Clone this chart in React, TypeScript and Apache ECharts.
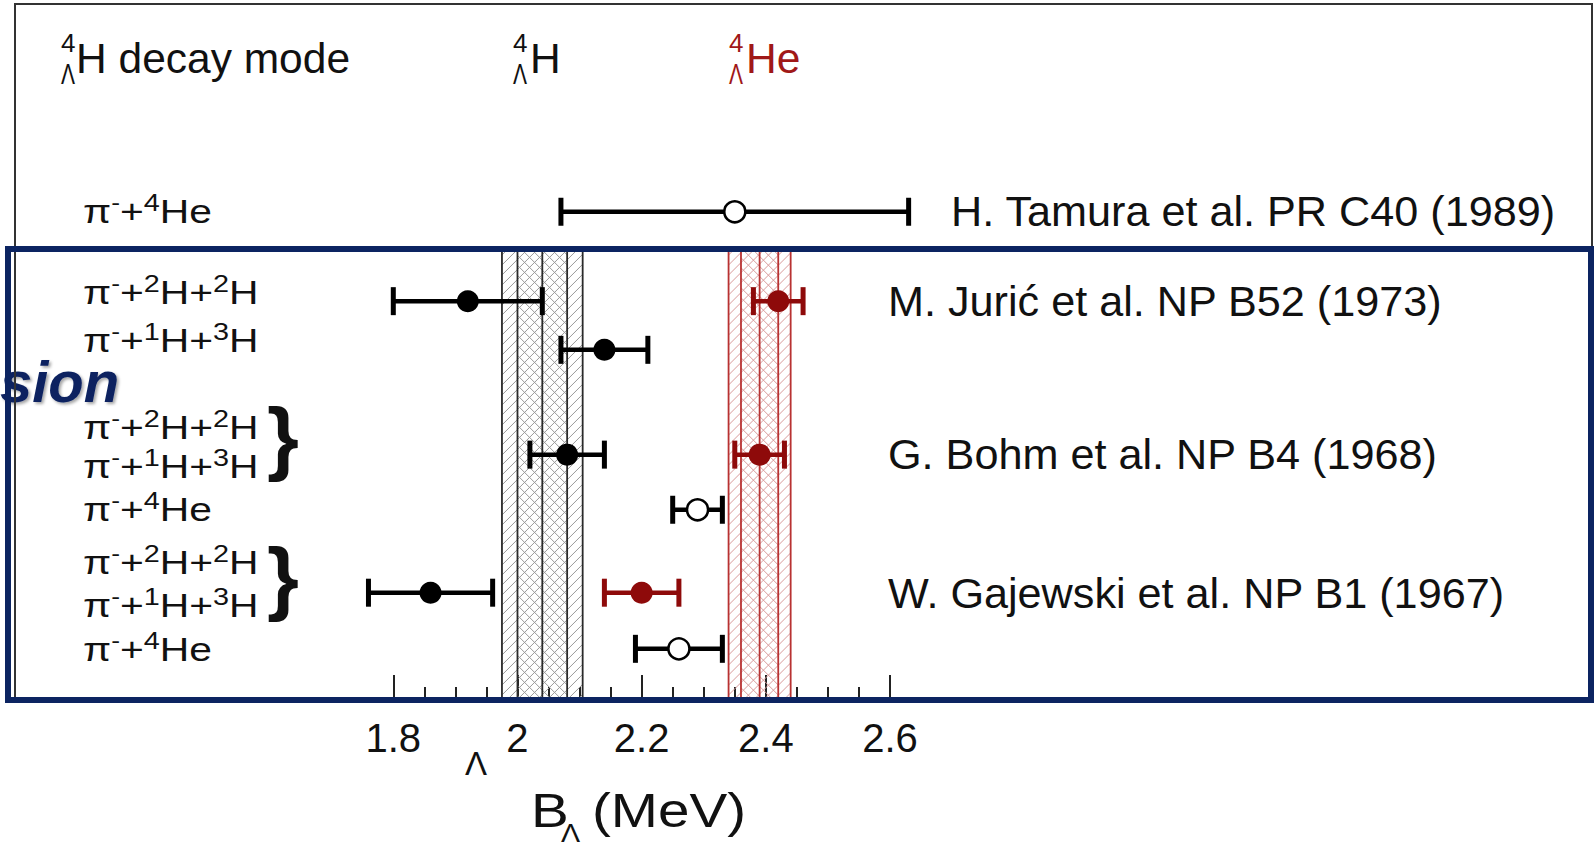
import React, { useEffect, useRef } from 'react';
import * as echarts from 'echarts';

const FONT = '"Liberation Sans", Arial, Helvetica, sans-serif';
const INK = '#111111';
const RED = '#8e0a0a';
const RED_TEXT = '#a01818';
const NAVY = '#0c2461';

// ---- B_Λ axis (MeV) ----
const X_MIN = 1.8;
const X_MAX = 2.6;
const X_INTERVAL = 0.2;

// ---- hidden vertical axis: measurement rows inside the framed panel ----
const ROW_MIN = 0;
const ROW_MAX = 9;

// ---- averaged bands: centre, inner (stat) half-width, outer (total) half-width ----
const bandHyperH = [2.04, 0.04, 0.065];
const bandHyperHe = [2.39, 0.03, 0.05];

// ---- 4ΛH measurements (filled black) ----
const hValues = [1.92, 2.14, 2.08, 1.86];
const hErrors = [0.12, 0.07, 0.06, 0.1];
const hRows = [1.03, 2.01, 4.12, 6.9];

// ---- 4ΛHe measurements (filled red) ----
const heValues = [2.42, 2.39, 2.2];
const heErrors = [0.04, 0.04, 0.06];
const heRows = [1.03, 4.12, 6.9];

// ---- π⁻ + ⁴He decay channel (open circles) ----
const openValues = [2.35, 2.29, 2.26];
const openErrors = [0.28, 0.04, 0.07];
const openRows = [-0.77, 5.23, 8.03];

// ---- reference labels ----
const citations = [
  'H. Tamura et al. PR C40 (1989)',
  'M. Jurić et al. NP B52 (1973)',
  'G. Bohm et al. NP B4 (1968)',
  'W. Gajewski et al. NP B1 (1967)',
];

// ---- decay-mode labels (rich text tokens) ----
const MODE_HE = '{m|π}{n|-}{m|+}{s|4}{m|He}';
const MODE_DD = '{m|π}{n|-}{m|+}{s|2}{m|H+}{s|2}{m|H}';
const MODE_PT = '{m|π}{n|-}{m|+}{s|1}{m|H+}{s|3}{m|H}';
const decayModes = [MODE_HE, MODE_DD, MODE_PT, MODE_DD, MODE_PT, MODE_HE, MODE_DD, MODE_PT, MODE_HE];

// layout of annotation text (pixels)
const modeLabelY = [211, 292, 340, 427, 466, 509, 562, 605, 649];
const citationPos = [
  [951, 211],
  [888, 301],
  [888, 454],
  [888, 593],
];
const bracePos = [
  [267, 436],
  [267, 576],
];

const GRID = { left: 393.3, top: 250, width: 496.7, height: 447 };

type Api = any;

function hatchLines(x0: number, x1: number, y0: number, y1: number, dir: number, step: number, stroke: string) {
  const out: any[] = [];
  if (dir > 0) {
    // "/" lines: x + y = k
    for (let k = x0 + y0 + step / 2; k <= x1 + y1; k += step) {
      const xa = Math.max(x0, k - y1);
      const xb = Math.min(x1, k - y0);
      if (xb > xa) {
        out.push({ type: 'line', silent: true, shape: { x1: xa, y1: k - xa, x2: xb, y2: k - xb }, style: { stroke, lineWidth: 1 } });
      }
    }
  } else {
    // "\" lines: y - x = k
    for (let k = y0 - x1 + step / 2; k <= y1 - x0; k += step) {
      const xa = Math.max(x0, y0 - k);
      const xb = Math.min(x1, y1 - k);
      if (xb > xa) {
        out.push({ type: 'line', silent: true, shape: { x1: xa, y1: xa + k, x2: xb, y2: xb + k }, style: { stroke, lineWidth: 1 } });
      }
    }
  }
  return out;
}

function bandSeries(name: string, band: number[], edge: string, hatch: string) {
  return {
    type: 'custom',
    name,
    z: 1,
    silent: true,
    clip: false,
    data: [[band[0], band[1], band[2]]],
    encode: { x: 0 },
    renderItem: (_p: any, api: Api) => {
      const c = api.value(0);
      const inner = api.value(1);
      const outer = api.value(2);
      const top = api.coord([c, ROW_MIN])[1];
      const bottom = api.coord([c, ROW_MAX])[1];
      const xo0 = api.coord([c - outer, ROW_MIN])[0];
      const xo1 = api.coord([c + outer, ROW_MIN])[0];
      const xi0 = api.coord([c - inner, ROW_MIN])[0];
      const xi1 = api.coord([c + inner, ROW_MIN])[0];
      const xc = api.coord([c, ROW_MIN])[0];
      const children: any[] = [
        ...hatchLines(xo0, xo1, top, bottom, 1, 10, hatch),
        ...hatchLines(xi0, xi1, top, bottom, -1, 10, hatch),
      ];
      [xo0, xi0, xc, xi1, xo1].forEach((x) => {
        children.push({ type: 'line', shape: { x1: x, y1: top, x2: x, y2: bottom }, style: { stroke: edge, lineWidth: 1.8 } });
      });
      return { type: 'group', children };
    },
  };
}

function errorBarSeries(name: string, values: number[], errors: number[], rows: number[], color: string) {
  return {
    type: 'custom',
    name,
    z: 3,
    clip: false,
    data: values.map((v, i) => [v, errors[i], rows[i]]),
    encode: { x: 0, y: 2 },
    renderItem: (_p: any, api: Api) => {
      const v = api.value(0);
      const e = api.value(1);
      const r = api.value(2);
      const l = api.coord([v - e, r]);
      const rt = api.coord([v + e, r]);
      const y = l[1];
      return {
        type: 'group',
        children: [
          { type: 'line', shape: { x1: l[0], y1: y, x2: rt[0], y2: y }, style: { stroke: color, lineWidth: 4.5 } },
          { type: 'rect', shape: { x: l[0] - 2.5, y: y - 14, width: 5, height: 28 }, style: { fill: color } },
          { type: 'rect', shape: { x: rt[0] - 2.5, y: y - 14, width: 5, height: 28 }, style: { fill: color } },
        ],
      };
    },
  };
}

const labelRich = {
  m: { fontSize: 34, fontFamily: FONT, color: INK, lineHeight: 40 },
  s: { fontSize: 24, fontFamily: FONT, color: INK, verticalAlign: 'top', lineHeight: 20 },
  n: { fontSize: 22, fontFamily: FONT, color: INK, verticalAlign: 'top', lineHeight: 12 },
};

function text(x: number, y: number, str: string, size: number, fill = INK, extra: any = {}) {
  const { style: extraStyle, ...rest } = extra;
  return {
    type: 'text',
    x,
    y,
    z: 40,
    silent: true,
    ...rest,
    style: { text: str, fontSize: size, fontFamily: FONT, fill, verticalAlign: 'middle', align: 'left', ...(extraStyle || {}) },
  };
}

function buildOption() {
  const graphic: any[] = [];

  // header: ⁴ΛH decay mode, ⁴ΛH, ⁴ΛHe
  const headers: [number, number, string, string][] = [
    [61, 76, 'H decay mode', INK],
    [513, 530, 'H', INK],
    [729, 746, 'He', RED_TEXT],
  ];
  headers.forEach(([xs, xm, main, col]) => {
    graphic.push(text(xs, 43, '4', 26, col));
    graphic.push(text(xs, 74, 'Λ', 30, col, { scaleX: 0.7 }));
    graphic.push(text(xm, 58, main, 42.5, col));
  });

  // decay-mode labels
  decayModes.forEach((s, i) => {
    graphic.push({
      type: 'text',
      x: 83,
      y: modeLabelY[i],
      scaleX: 1.2,
      z: 40,
      silent: true,
      style: { text: s, rich: labelRich, fontSize: 34, fontFamily: FONT, fill: INK, verticalAlign: 'middle', align: 'left' },
    });
  });

  // braces grouping the three-body channels
  bracePos.forEach(([x, y]) => graphic.push(text(x, y, '}', 82, INK, { style: { fontWeight: 'bold' } })));

  // citations
  citations.forEach((c, i) => graphic.push(text(citationPos[i][0], citationPos[i][1], c, 43.2, INK)));

  // axis title B_Λ (MeV) and the lone Λ under the axis
  graphic.push(text(531, 810, 'B', 48, INK, { scaleX: 1.18 }));
  graphic.push(text(561, 833, 'Λ', 26, INK, { scaleX: 1.1 }));
  graphic.push(text(592, 810, '(MeV)', 48, INK, { scaleX: 1.18 }));
  graphic.push(text(476, 763, 'Λ', 33, INK, { style: { align: 'center' } }));

  // section title running in from the page edge
  graphic.push({
    type: 'text',
    x: 0,
    y: 381,
    z: 45,
    silent: true,
    style: {
      text: 'sion',
      fontSize: 58,
      fontFamily: FONT,
      fontWeight: 'bold',
      fontStyle: 'italic',
      fill: NAVY,
      verticalAlign: 'middle',
      align: 'left',
      textShadowColor: 'rgba(0,0,0,0.35)',
      textShadowOffsetX: 2,
      textShadowOffsetY: 2,
      textShadowBlur: 3,
    },
  });

  // outer frame and highlighted panel
  graphic.push({ type: 'rect', z: 50, silent: true, shape: { x: 15, y: 4, width: 1577, height: 696 }, style: { fill: 'none', stroke: '#333', lineWidth: 2 } });
  graphic.push({ type: 'rect', z: 60, silent: true, shape: { x: 8, y: 249, width: 1583, height: 451 }, style: { fill: 'none', stroke: NAVY, lineWidth: 6 } });

  return {
    animation: false,
    backgroundColor: '#ffffff',
    grid: { left: GRID.left, top: GRID.top, width: GRID.width, height: GRID.height, containLabel: false },
    xAxis: {
      type: 'value',
      position: 'bottom',
      min: X_MIN,
      max: X_MAX,
      interval: X_INTERVAL,
      axisLine: { show: false, onZero: false },
      axisTick: { show: true, inside: true, length: 22, lineStyle: { color: '#222', width: 2 } },
      minorTick: { show: true, splitNumber: 4, length: 10, lineStyle: { color: '#222', width: 2 } },
      splitLine: { show: false },
      axisLabel: { fontSize: 40, fontFamily: FONT, color: INK, margin: 21 },
    },
    yAxis: {
      type: 'value',
      min: ROW_MIN,
      max: ROW_MAX,
      inverse: true,
      show: false,
    },
    graphic,
    series: [
      bandSeries('⁴ΛH average', bandHyperH, '#2a2a2a', '#9a9a9a'),
      bandSeries('⁴ΛHe average', bandHyperHe, '#b83232', '#d99a9a'),
      errorBarSeries('⁴ΛH errors', hValues, hErrors, hRows, '#000'),
      errorBarSeries('⁴ΛHe errors', heValues, heErrors, heRows, RED),
      errorBarSeries('π⁻+⁴He errors', openValues, openErrors, openRows, '#000'),
      {
        type: 'scatter',
        name: '⁴ΛH',
        z: 4,
        symbolSize: 22,
        clip: false,
        itemStyle: { color: '#000', opacity: 1 },
        data: hValues.map((v, i) => [v, hRows[i]]),
      },
      {
        type: 'scatter',
        name: '⁴ΛHe',
        z: 4,
        symbolSize: 22,
        clip: false,
        itemStyle: { color: RED, opacity: 1 },
        data: heValues.map((v, i) => [v, heRows[i]]),
      },
      {
        type: 'scatter',
        name: 'π⁻+⁴He',
        z: 4,
        symbolSize: 21,
        clip: false,
        itemStyle: { color: '#fff', borderColor: '#000', borderWidth: 2.5, opacity: 1 },
        data: openValues.map((v, i) => [v, openRows[i]]),
      },
    ],
  };
}

export default function App() {
  const ref = useRef<HTMLDivElement>(null);
  useEffect(() => {
    if (!ref.current) return;
    const chart = echarts.init(ref.current, null, { renderer: 'svg' });
    chart.setOption(buildOption() as any);
    return () => chart.dispose();
  }, []);
  return <div ref={ref} style={{ position: 'fixed', left: 0, top: 0, width: 1595, height: 851, background: '#fff' }} />;
}
